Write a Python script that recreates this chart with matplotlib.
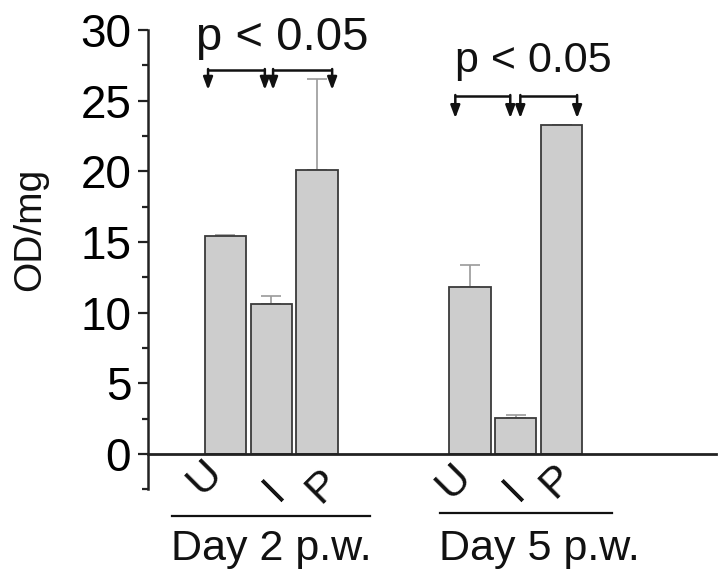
import matplotlib
matplotlib.use("Agg")
import matplotlib.pyplot as plt
from matplotlib.ticker import MultipleLocator

plt.rcParams['font.family'] = ['Liberation Sans', 'DejaVu Sans']

# ---- data ----
groups = ["Day 2 p.w.", "Day 5 p.w."]
bar_labels = ["U", "I", "P"]
day2_values = [15.4, 10.6, 20.1]
day2_err = [0.12, 0.6, 6.4]
day5_values = [11.8, 2.55, 23.25]
day5_err = [1.6, 0.22, 0.05]
y_ticks = [0, 5, 10, 15, 20, 25, 30]

# ---- layout (bar slots) ----
day2_x = [0, 1, 2]
day5_x = [5.34, 6.34, 7.34]
bar_width = 0.9

fig = plt.figure(figsize=(7.25, 5.84), dpi=100)
ax = fig.add_axes([0.204, 0.162, 0.784, 0.7866])

face = '#cdcdcd'
edge = '#3a3a3a'
errc = '#9a9a9a'

for xs, vals, errs in [(day2_x, day2_values, day2_err), (day5_x, day5_values, day5_err)]:
    ax.bar(xs, vals, width=bar_width, color=face, edgecolor=edge, linewidth=1.3, zorder=2)
    ax.errorbar(xs, vals, yerr=[[0] * len(errs), errs], fmt='none', ecolor=errc,
                elinewidth=1.2, capsize=7, capthick=1.2, zorder=1)

ax.set_xlim(-1.694, 10.72)
ax.set_ylim(-2.5, 30)
ax.set_yticks(y_ticks)
ax.yaxis.set_minor_locator(MultipleLocator(2.5))
ax.tick_params(axis='y', which='major', direction='out', length=7, width=1.6,
               labelsize=33, pad=5, color='#222222')
ax.tick_params(axis='y', which='minor', direction='out', length=4, width=1.6, color='#222222')
ax.set_xticks([])
for s in ['top', 'right']:
    ax.spines[s].set_visible(False)
ax.spines['bottom'].set_position(('data', 0))
ax.spines['bottom'].set_linewidth(2.0)
ax.spines['bottom'].set_color('#222222')
ax.spines['left'].set_linewidth(1.8)
ax.spines['left'].set_color('#222222')

fig.text(0.041, 0.608, "OD/mg", fontsize=28, rotation=90, ha='center', va='center',
         color='#111111')

# rotated bar labels below the axis
label_pos = [(-0.45, -1.63), (1.06, -2.55), (2.13, -2.26),
             (4.99, -1.91), (6.32, -2.55), (7.24, -1.91)]
for i, (lx, ly) in enumerate(label_pos):
    ax.text(lx, ly, bar_labels[i % 3], rotation=45, fontsize=31,
            ha='center', va='center', color='#111111')

# group underlines and names
for (x1, x2, yl), name, cx in [((-1.17, 3.16, -4.39), groups[0], 1.0),
                               ((4.69, 8.45, -4.18), groups[1], 6.85)]:
    ax.plot([x1, x2], [yl, yl], color='#111111', lw=1.6, clip_on=False)
    ax.text(cx, -7.5, name, fontsize=31, ha='center', va='baseline', color='#111111')

# significance brackets
brackets = [((-0.38, 0.86), (1.04, 2.33), 27.18, 25.76),
            ((5.02, 6.22), (6.44, 7.68), 25.34, 23.76)]
for b1, b2, ytop, ytip in brackets:
    for xa, xb in (b1, b2):
        ax.plot([xa, xb], [ytop, ytop], color='#111111', lw=1.8, clip_on=False,
                solid_capstyle='butt')
        for xx in (xa, xb):
            ax.annotate('', xy=(xx, ytip), xytext=(xx, ytop + 0.06),
                        arrowprops=dict(arrowstyle='-|>,head_length=0.75,head_width=0.28',
                                        lw=1.8, color='#111111', shrinkA=0, shrinkB=0,
                                        mutation_scale=10),
                        annotation_clip=False)

ax.text(1.23, 28.6, "p < 0.05", fontsize=34, ha='center', va='baseline', color='#111111')
ax.text(6.73, 27.06, "p < 0.05", fontsize=31, ha='center', va='baseline', color='#111111')

fig.savefig("out.png", dpi=100)
